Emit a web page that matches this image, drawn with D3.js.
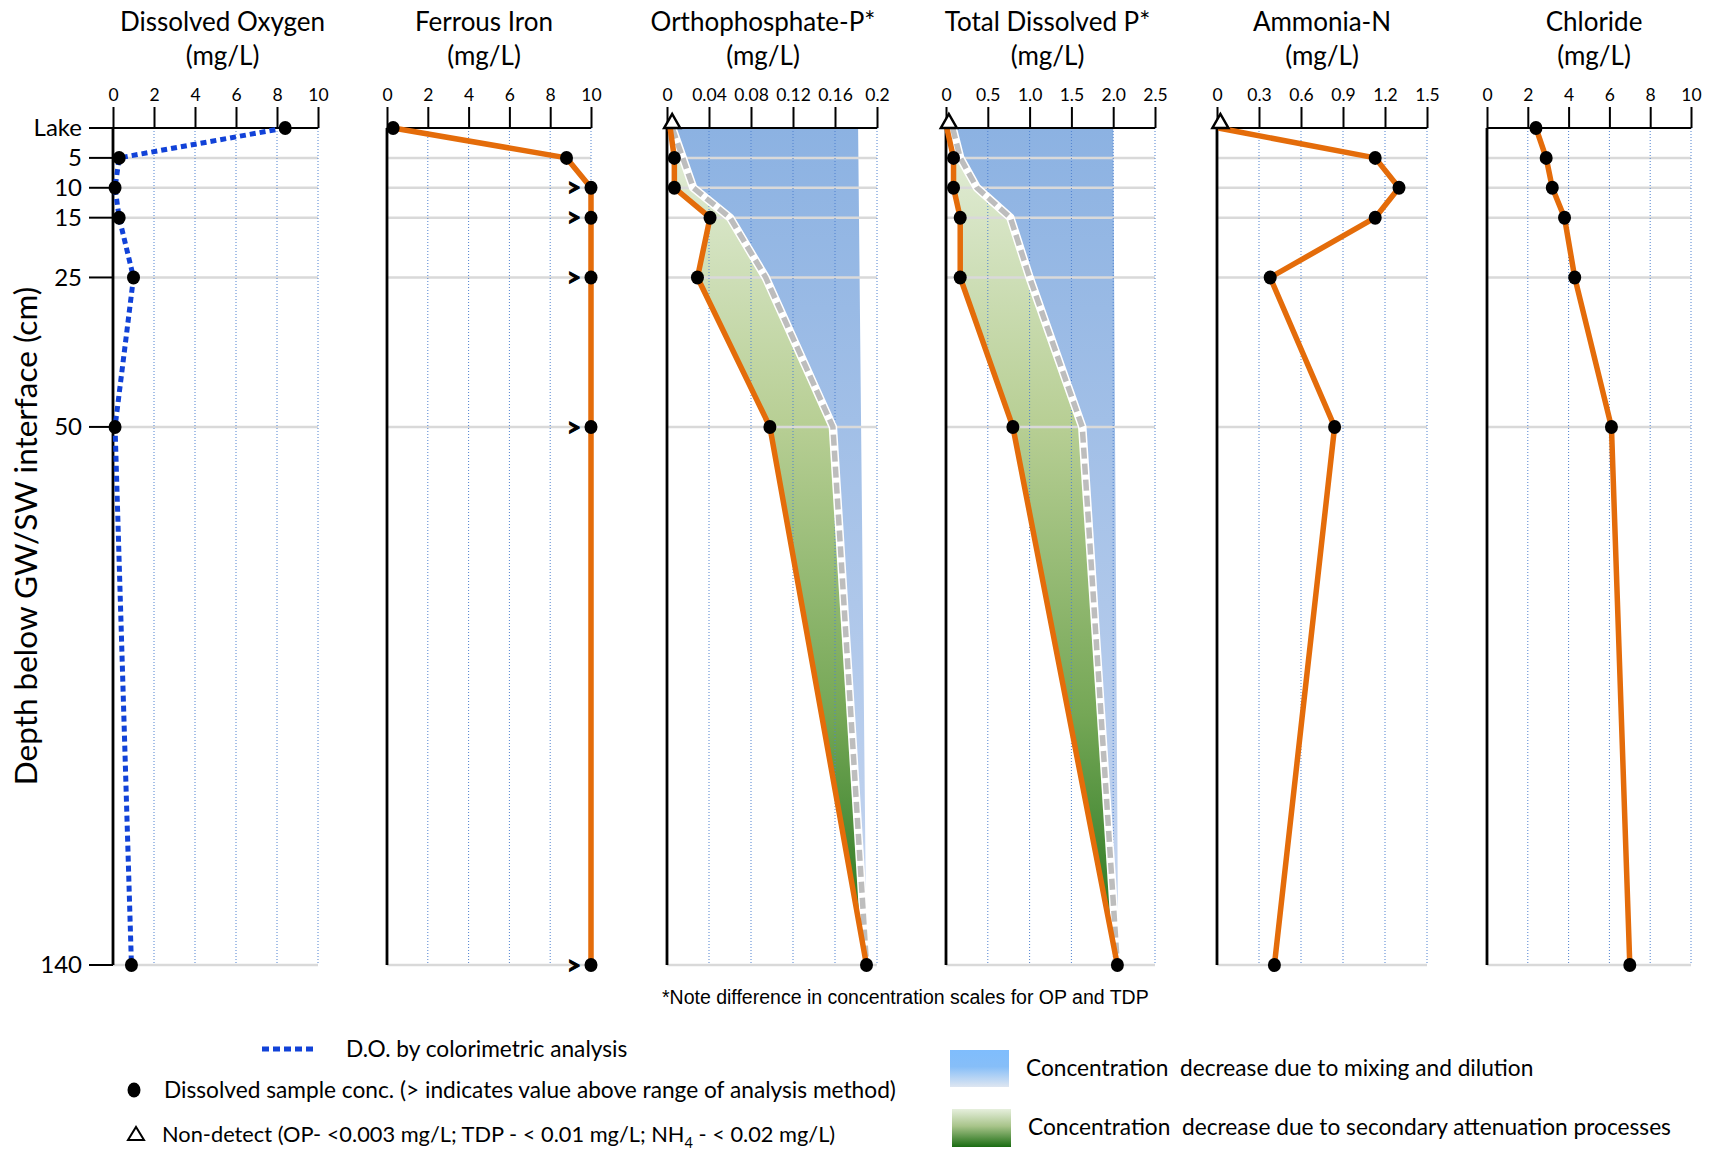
<!DOCTYPE html>
<html>
<head>
<meta charset="utf-8">
<script src="https://cdn.jsdelivr.net/npm/d3@7"></script>
<style>
  body { margin: 0; background: #fff; }
  text { font-family: Lato, "Open Sans", sans-serif; fill: #000; }
  .pre { white-space: pre; }
  .note { font-family: "Liberation Sans", Arial, sans-serif; }
</style>
</head>
<body>
<svg id="chart" width="1715" height="1150"></svg>
<script>
// ---- Sample depths (cm below the groundwater / surface-water interface) ----
const depths      = [0, 5, 10, 15, 25, 50, 140];
const depthLabels = ["Lake", "5", "10", "15", "25", "50", "140"];

// ---- Measured concentrations (mg/L), one value per depth ----
const dissolvedOxygen = [8.4, 0.3, 0.1, 0.3, 1.0, 0.1, 0.9];
const ferrousIron     = [0.3, 8.8, 10, 10, 10, 10, 10];
const ironAboveRange  = [false, false, true, true, true, true, true];
const orthoP          = [0.003, 0.007, 0.007, 0.041, 0.029, 0.098, 0.19];
const totalDissolvedP = [0.01, 0.09, 0.09, 0.17, 0.17, 0.8, 2.05];
const ammoniaN        = [0.01, 1.13, 1.3, 1.13, 0.38, 0.84, 0.41];
const chloride        = [2.4, 2.9, 3.2, 3.8, 4.3, 6.1, 7.0];
const lakeNonDetect   = { op: true, tdp: true, nh: true };

// ---- Conservative-mixing profiles (dashed lines) ----
const orthoPMixing = [0.005, 0.015, 0.025, 0.06, 0.094, 0.158, 0.19];
const tdpMixing    = [0.08, 0.17, 0.37, 0.77, 1.0, 1.63, 2.05];
// Source-water concentration bounding the dilution band: [top, bottom]
const orthoPSource = [0.182, 0.19];
const tdpSource    = [2.0, 2.06];

// ---- Axis tick labels ----
const ticksDO  = ["0", "2", "4", "6", "8", "10"];
const ticksFe  = ["0", "2", "4", "6", "8", "10"];
const ticksOP  = ["0", "0.04", "0.08", "0.12", "0.16", "0.2"];
const ticksTDP = ["0", "0.5", "1.0", "1.5", "2.0", "2.5"];
const ticksNH  = ["0", "0.3", "0.6", "0.9", "1.2", "1.5"];
const ticksCl  = ["0", "2", "4", "6", "8", "10"];

const panels = [
  { key: "do",  title: "Dissolved Oxygen",   max: 10,  ticks: ticksDO,  values: dissolvedOxygen, left: 113,  right: 318,  titleShift: 7 },
  { key: "fe",  title: "Ferrous Iron",       max: 10,  ticks: ticksFe,  values: ferrousIron,     left: 387,  right: 591,  titleShift: -5 },
  { key: "op",  title: "Orthophosphate-P*",  max: 0.2, ticks: ticksOP,  values: orthoP,          left: 667,  right: 877,  titleShift: -9,
    mixing: orthoPMixing, source: orthoPSource },
  { key: "tdp", title: "Total Dissolved P*", max: 2.5, ticks: ticksTDP, values: totalDissolvedP, left: 946,  right: 1155, titleShift: -3,
    mixing: tdpMixing, source: tdpSource },
  { key: "nh",  title: "Ammonia-N",          max: 1.5, ticks: ticksNH,  values: ammoniaN,        left: 1217, right: 1427, titleShift: 0 },
  { key: "cl",  title: "Chloride",           max: 10,  ticks: ticksCl,  values: chloride,        left: 1487, right: 1691, titleShift: 5 }
];

const ORANGE = "#E46C0A";
const DO_BLUE = "#1142D8";

const svg = d3.select("#chart");
const defs = svg.append("defs");

const y = d3.scaleLinear().domain([0, 140]).range([128, 965]);
const yBottom = y(140);

function gradient(id, stops) {
  const g = defs.append("linearGradient").attr("id", id)
    .attr("x1", 0).attr("y1", 0).attr("x2", 0).attr("y2", 1);
  stops.forEach(([o, c]) => g.append("stop").attr("offset", o).attr("stop-color", c));
}
gradient("dilution", [[0, "#8CB2E2"], [1, "#C8D7F0"]]);
gradient("attenuation", [[0, "#E4EEDA"], [0.35, "#B8CF95"], [0.7, "#75A756"], [1, "#1E711A"]]);
gradient("dilutionKey", [[0, "#7FBDFD"], [0.45, "#86BEF8"], [1, "#DEE6F1"]]);
gradient("attenuationKey", [[0, "#E6EFDD"], [0.45, "#A8C48A"], [1, "#1A6C12"]]);

panels.forEach(p => {
  const x = d3.scaleLinear().domain([0, p.max]).range([p.left, p.right]);
  const g = svg.append("g").attr("class", "panel-" + p.key);
  const tickVals = p.ticks.map(Number);
  const pts = depths.map((d, i) => ({ d, v: p.values[i] }));

  // Dilution band and attenuation band (phosphorus panels)
  if (p.mixing) {
    const mix = depths.map((d, i) => ({ d, v: p.mixing[i] }));
    const band = mix.concat([{ d: 140, v: p.source[1] }, { d: 0, v: p.source[0] }]);
    g.append("path")
      .attr("d", d3.line().x(q => x(q.v)).y(q => y(q.d))(band) + "Z")
      .attr("fill", "url(#dilution)");

    const atten = d3.area().y(q => y(q.d)).x0(q => x(q.v)).x1((q, i) => x(p.mixing[i]));
    g.append("path")
      .attr("d", atten(pts))
      .attr("fill", "url(#attenuation)")
      .attr("stroke", "#fff").attr("stroke-width", 2);
  }

  // Horizontal gridlines at sample depths
  g.selectAll("line.hgrid").data(depths.slice(1)).join("line")
    .attr("class", "hgrid")
    .attr("x1", p.left).attr("x2", p.right)
    .attr("y1", d => y(d)).attr("y2", d => y(d))
    .attr("stroke", "#D9D9D9").attr("stroke-width", 2.5);

  // Vertical dotted gridlines
  g.selectAll("line.vgrid").data(tickVals.slice(1)).join("line")
    .attr("class", "vgrid")
    .attr("x1", v => x(v)).attr("x2", v => x(v))
    .attr("y1", y(0)).attr("y2", yBottom)
    .attr("stroke", "#4F81D0").attr("stroke-width", 1).attr("stroke-dasharray", "1,2");

  // Top concentration axis
  const axis = d3.axisTop(x).tickValues(tickVals).tickSize(21).tickPadding(6)
    .tickFormat((v, i) => p.ticks[i]);
  const ax = g.append("g").attr("transform", `translate(0,${y(0)})`).call(axis);
  ax.select(".domain").attr("stroke", "#000").attr("stroke-width", 2).attr("d", `M${p.left},0H${p.right}`);
  ax.selectAll(".tick line").attr("stroke", "#000").attr("stroke-width", 2);
  ax.selectAll(".tick text").attr("font-size", 17.5).attr("fill", "#000");

  // Left depth axis line
  g.append("line")
    .attr("x1", p.left).attr("x2", p.left).attr("y1", y(0)).attr("y2", yBottom)
    .attr("stroke", "#000").attr("stroke-width", 2.8);

  // Panel title
  const cx = (p.left + p.right) / 2 + p.titleShift;
  g.append("text").attr("x", cx).attr("y", 31).attr("text-anchor", "middle")
    .attr("font-size", 26).text(p.title);
  g.append("text").attr("x", cx).attr("y", 65).attr("text-anchor", "middle")
    .attr("font-size", 26).text("(mg/L)");

  // Conservative mixing line (dashed, white-edged)
  if (p.mixing) {
    const mixLine = d3.line().x(q => x(q.v)).y(q => y(q.d));
    const mix = depths.map((d, i) => ({ d, v: p.mixing[i] }));
    g.append("path").attr("d", mixLine(mix)).attr("fill", "none")
      .attr("stroke", "#fff").attr("stroke-width", 8.5).attr("stroke-linejoin", "round");
    g.append("path").attr("d", mixLine(mix)).attr("fill", "none")
      .attr("stroke", "#BDBDBD").attr("stroke-width", 5.5).attr("stroke-dasharray", "11,5");
  }

  // Profile line
  const line = d3.line().x(q => x(q.v)).y(q => y(q.d));
  if (p.key === "do") {
    g.append("path").attr("d", line(pts)).attr("fill", "none")
      .attr("stroke", DO_BLUE).attr("stroke-width", 5).attr("stroke-dasharray", "6,4");
  } else {
    g.append("path").attr("d", line(pts)).attr("fill", "none")
      .attr("stroke", ORANGE).attr("stroke-width", 5.5).attr("stroke-linejoin", "round");
  }

  // Sample markers
  const nd = lakeNonDetect[p.key];
  g.selectAll("ellipse.pt").data(pts.filter((q, i) => !(nd && i === 0))).join("ellipse")
    .attr("class", "pt")
    .attr("cx", q => x(q.v)).attr("cy", q => y(q.d))
    .attr("rx", 6.5).attr("ry", 7).attr("fill", "#000");

  if (nd) {
    const tx = x(p.values[0]) + 2, ty = y(0);
    g.append("path")
      .attr("d", `M${tx - 8},${ty} L${tx + 8},${ty} L${tx},${ty - 14} Z`)
      .attr("fill", "#fff").attr("stroke", "#000").attr("stroke-width", 2.5)
      .attr("stroke-linejoin", "miter");
  }

  // Above-range indicators for ferrous iron
  if (p.key === "fe") {
    g.selectAll("text.gt").data(pts.filter((q, i) => ironAboveRange[i])).join("text")
      .attr("class", "gt")
      .attr("x", q => x(q.v) - 17).attr("y", q => y(q.d)).attr("dy", "0.36em")
      .attr("text-anchor", "middle").attr("font-size", 24).attr("font-weight", 700)
      .attr("stroke", "#000").attr("stroke-width", 1.1)
      .text(">");
  }

  // Depth labels on the first panel
  if (p.key === "do") {
    g.selectAll("line.dtick").data(depths).join("line")
      .attr("class", "dtick")
      .attr("x1", p.left - 24).attr("x2", p.left)
      .attr("y1", d => y(d)).attr("y2", d => y(d))
      .attr("stroke", "#000").attr("stroke-width", 2);
    g.selectAll("text.dlab").data(depths).join("text")
      .attr("class", "dlab")
      .attr("x", p.left - 31).attr("y", d => y(d)).attr("dy", "0.35em")
      .attr("text-anchor", "end").attr("font-size", 24)
      .text((d, i) => depthLabels[i]);
  }
});

// Vertical axis title
svg.append("text")
  .attr("transform", `translate(37,536) rotate(-90)`)
  .attr("text-anchor", "middle").attr("font-size", 31.5)
  .text("Depth below GW/SW interface (cm)");

// Scale note
svg.append("text").attr("class", "note")
  .attr("x", 662).attr("y", 1004).attr("font-size", 19.5)
  .text("*Note difference in concentration scales for OP and TDP");

// ---- Legend ----
const legend = svg.append("g").attr("class", "legend");
legend.append("line").attr("x1", 262).attr("x2", 314).attr("y1", 1049).attr("y2", 1049)
  .attr("stroke", DO_BLUE).attr("stroke-width", 5).attr("stroke-dasharray", "7,4");
legend.append("text").attr("x", 346).attr("y", 1049).attr("dy", "0.35em").attr("font-size", 22.7)
  .text("D.O. by colorimetric analysis");

legend.append("ellipse").attr("cx", 134).attr("cy", 1090).attr("rx", 6.5).attr("ry", 7.5).attr("fill", "#000");
legend.append("text").attr("x", 164).attr("y", 1090).attr("dy", "0.35em").attr("font-size", 22.7)
  .text("Dissolved sample conc. (> indicates value above range of analysis method)");

legend.append("path").attr("d", "M128,1140 L144,1140 L136,1127 Z")
  .attr("fill", "#fff").attr("stroke", "#000").attr("stroke-width", 2);
const nd = legend.append("text").attr("x", 162).attr("y", 1134).attr("dy", "0.35em").attr("font-size", 21.8);
nd.append("tspan").text("Non-detect (OP- <0.003 mg/L; TDP - < 0.01 mg/L; NH");
nd.append("tspan").attr("font-size", 14.5).attr("dy", 6).text("4");
nd.append("tspan").attr("dy", -6).text(" - < 0.02 mg/L)");

legend.append("rect").attr("x", 950).attr("y", 1050).attr("width", 59).attr("height", 37)
  .attr("fill", "url(#dilutionKey)");
legend.append("text").attr("class", "pre").attr("x", 1026).attr("y", 1068).attr("dy", "0.35em").attr("font-size", 22.7)
  .text("Concentration  decrease due to mixing and dilution");

legend.append("rect").attr("x", 952).attr("y", 1109).attr("width", 59).attr("height", 38)
  .attr("fill", "url(#attenuationKey)");
legend.append("text").attr("class", "pre").attr("x", 1028).attr("y", 1127).attr("dy", "0.35em").attr("font-size", 22.7)
  .text("Concentration  decrease due to secondary attenuation processes");
</script>
</body>
</html>
